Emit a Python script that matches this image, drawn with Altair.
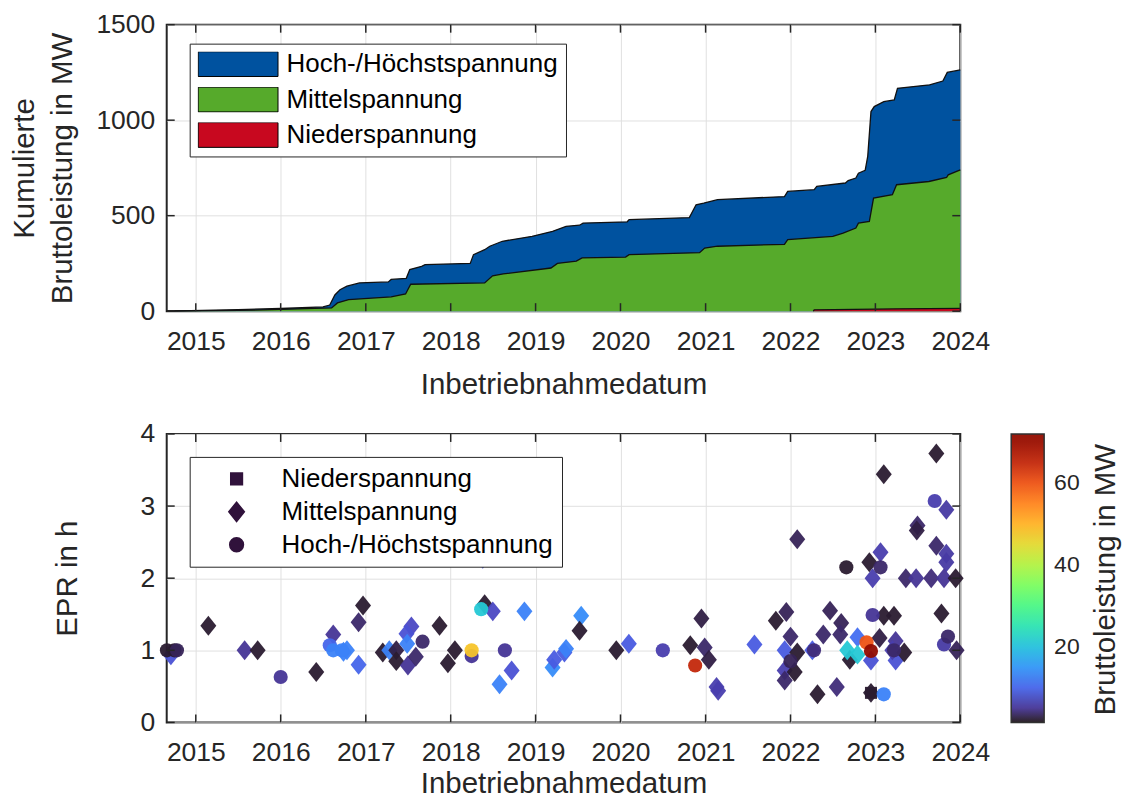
import altair as alt
import pandas as pd

# ---------------- top panel: cumulative gross capacity (MW) ----------------
# total (top edge of blue area)
total_dates = ["2014-08-29", "2015-07-02", "2016-01-01", "2016-07-01", "2016-07-30", "2016-08-21",
               "2016-09-12", "2016-10-12", "2016-12-05", "2017-04-08", "2017-04-20", "2017-06-24",
               "2017-07-09", "2017-08-29", "2017-09-13", "2018-03-26", "2018-04-09", "2018-05-27",
               "2018-06-18", "2018-08-11", "2018-12-17", "2019-03-15", "2019-05-12", "2019-07-09",
               "2019-07-24", "2020-01-30", "2020-02-07", "2020-10-23", "2020-11-21", "2020-12-24",
               "2021-02-21", "2021-12-06", "2021-12-20", "2022-04-13", "2022-04-24", "2022-08-25",
               "2022-09-06", "2022-10-09", "2022-10-20", "2022-11-18", "2022-11-29", "2022-12-13",
               "2022-12-27", "2023-02-06", "2023-03-23", "2023-04-06", "2023-08-22", "2023-10-18",
               "2023-11-06", "2024-01-01"]
total_mw = [0, 8, 14, 22, 32, 85,
            112, 131, 148, 153, 166, 172,
            218, 235, 244, 250, 296, 322,
            340, 366, 392, 418, 444, 450,
            461, 468, 479, 490, 557, 566,
            584, 600, 627, 636, 653, 671,
            684, 697, 722, 737, 810, 1045,
            1071, 1097, 1106, 1167, 1185, 1205,
            1250, 1263]

# Mittel- + Niederspannung (top edge of green area)
mv_dates = ["2014-08-29", "2015-07-02", "2016-01-01", "2016-08-07", "2016-09-01", "2016-10-19",
            "2017-04-20", "2017-06-21", "2017-07-13", "2018-05-27", "2018-06-30", "2018-08-15",
            "2019-03-08", "2019-04-05", "2019-06-25", "2019-07-20", "2020-01-23", "2020-02-07",
            "2020-12-06", "2020-12-28", "2021-02-21", "2021-12-06", "2021-12-20", "2022-07-02",
            "2022-08-15", "2022-10-09", "2022-10-20", "2022-12-06", "2022-12-24", "2023-03-15",
            "2023-04-02", "2023-08-19", "2023-11-03", "2023-11-10", "2024-01-01"]
mv_mw = [0, 4, 9, 17, 43, 60,
         75, 90, 141, 148, 185, 195,
         226, 250, 262, 279, 283, 296,
         306, 330, 340, 350, 375, 392,
         409, 435, 461, 470, 592, 610,
         662, 679, 700, 714, 740]

# Niederspannung (red area)
lv_dates = ["2022-04-09", "2022-04-13", "2022-10-01", "2023-04-01", "2024-01-01"]
lv_mw = [0, 7, 9, 12, 15]

levels_top = ["Hoch-/Höchstspannung", "Mittelspannung", "Niederspannung"]
colors_top = ["#00529f", "#56aa2b", "#c8081f"]

# ---------------- bottom panel: EPR vs. commissioning date ----------------
# Niederspannung (squares)
lv_pt_dates = ["2022-12-13"]
lv_pt_epr = [0.41]
lv_pt_mw = [2]

# Mittelspannung (diamonds)
mv_pt_dates = ["2014-09-16", "2015-02-24", "2015-07-30", "2015-09-24", "2016-06-02", "2016-08-14",
               "2016-09-27", "2016-10-12", "2016-12-01", "2016-12-01", "2016-12-20", "2017-03-15",
               "2017-04-12", "2017-05-12", "2017-05-12", "2017-07-01", "2017-07-16", "2017-06-25",
               "2017-06-28", "2017-08-04", "2017-11-14", "2018-01-19", "2017-12-20", "2018-05-27",
               "2018-07-01", "2018-05-19", "2018-11-14", "2018-09-20", "2018-07-30", "2019-03-15",
               "2019-03-22", "2019-05-05", "2019-05-12", "2019-07-16", "2019-07-09", "2019-12-14",
               "2020-02-06", "2020-10-27", "2020-12-14", "2020-12-28", "2021-01-15", "2021-02-17",
               "2021-02-24", "2021-07-30", "2021-10-30", "2021-12-14", "2021-12-07", "2022-01-01",
               "2022-01-30", "2021-12-07", "2021-12-07", "2022-01-19", "2022-01-30", "2022-04-05",
               "2022-04-27", "2022-05-22", "2022-06-20", "2022-07-19", "2022-08-07", "2022-08-03",
               "2022-09-13", "2022-09-02", "2022-10-16", "2022-10-16", "2022-12-13", "2022-12-13",
               "2022-12-06", "2022-12-20", "2023-01-23", "2023-02-06", "2023-01-19", "2023-02-06",
               "2023-03-22", "2023-03-29", "2023-03-29", "2023-03-15", "2023-05-05", "2023-05-12",
               "2023-06-25", "2023-07-01", "2023-06-28", "2023-08-29", "2023-09-20", "2023-09-20",
               "2023-10-12", "2023-11-02", "2023-11-02", "2023-11-02", "2023-10-23", "2023-12-12",
               "2023-12-16"]
mv_pt_epr = [0.93, 1.34, 1.00, 1.00, 0.70, 1.22,
             0.98, 1.00, 0.80, 1.39, 1.62, 0.97,
             1.00, 1.00, 0.85, 0.79, 1.33, 1.23,
             1.09, 0.91, 1.34, 1.00, 0.82, 1.64,
             1.54, 2.27, 1.54, 0.72, 0.53, 0.76,
             0.87, 0.97, 1.02, 1.48, 1.27, 1.00,
             1.09, 1.07, 1.44, 1.04, 0.87, 0.49,
             0.44, 1.08, 1.41, 1.53, 1.00, 1.19,
             0.97, 0.72, 0.58, 0.70, 2.54, 1.00,
             0.39, 1.22, 1.55, 0.49, 1.38, 1.22,
             0.87, 1.00, 1.18, 0.94, 0.86, 0.41,
             2.22, 2.00, 2.36, 3.44, 1.17, 1.48,
             1.48, 1.13, 0.86, 1.00, 0.97, 2.00,
             2.00, 2.73, 2.66, 2.00, 2.45, 3.73,
             1.51, 2.95, 2.34, 2.22, 2.00, 2.00,
             1.00]
mv_pt_mw = [8, 2, 5, 2, 2, 5,
            13, 13, 10, 3.5, 2, 2,
            13, 2.5, 2, 5, 7, 8,
            13, 3.5, 2, 2, 2, 2,
            7, 8, 13, 8, 13, 14,
            9, 9, 13, 14, 2, 2,
            9, 2, 2.5, 3.5, 2.5, 6,
            6, 9, 2, 3, 9, 3.5,
            2, 6, 3.5, 2, 3, 9,
            2, 3.5, 3, 4, 3, 3.5,
            2, 21, 11, 21, 8, 2,
            2, 6, 6, 2, 2.5, 2,
            2, 5, 8, 6, 2, 3.5,
            5, 3.5, 2.5, 4, 3.5, 2,
            2, 5.5, 5.5, 5.5, 5, 2,
            3]

# Hoch-/Höchstspannung (circles)
hv_pt_dates = ["2014-08-30", "2014-10-01", "2014-10-12", "2016-01-01", "2016-07-30", "2016-08-14",
               "2016-09-20", "2017-09-02", "2018-04-01", "2018-04-01", "2018-05-12", "2018-08-22",
               "2020-07-01", "2020-11-17", "2022-01-01", "2022-04-12", "2022-08-29", "2022-11-24",
               "2022-12-13", "2022-12-20", "2023-01-23", "2023-02-06", "2023-03-22", "2023-09-13",
               "2023-10-23", "2023-11-09"]
hv_pt_epr = [1.00, 1.00, 1.00, 0.63, 1.07, 1.00,
             1.00, 1.12, 0.92, 1.00, 1.57, 1.00,
             1.00, 0.79, 0.85, 1.00, 2.15, 1.11,
             0.99, 1.49, 2.15, 0.39, 1.00, 3.07,
             1.08, 1.19]
hv_pt_mw = [2, 2, 3, 5, 10, 13,
            13, 3.5, 5, 48, 21, 5,
            6, 65, 3, 4, 2, 60,
            72, 5, 3.5, 13, 3.5, 6,
            5.5, 3.5]

year_ticks = [f"{y}-01-01" for y in range(2015, 2025)]
top_yticks = [0, 500, 1000, 1500]
bot_yticks = [0, 1, 2, 3, 4]
cbar_ticks = [20, 40, 60]
cbar_title = ["Bruttoleistung in MW"]

# ---------------- tables ----------------
top_df = pd.concat([
    pd.DataFrame({"date": total_dates, "mw": total_mw, "level": levels_top[0]}),
    pd.DataFrame({"date": mv_dates, "mw": mv_mw, "level": levels_top[1]}),
    pd.DataFrame({"date": lv_dates, "mw": lv_mw, "level": levels_top[2]}),
], ignore_index=True)

levels_bot = ["Niederspannung", "Mittelspannung", "Hoch-/Höchstspannung"]
sc_df = pd.concat([
    pd.DataFrame({"date": lv_pt_dates, "epr": lv_pt_epr, "cap": lv_pt_mw, "level": levels_bot[0]}),
    pd.DataFrame({"date": mv_pt_dates, "epr": mv_pt_epr, "cap": mv_pt_mw, "level": levels_bot[1]}),
    pd.DataFrame({"date": hv_pt_dates, "epr": hv_pt_epr, "cap": hv_pt_mw, "level": levels_bot[2]}),
], ignore_index=True)

xt_df = pd.DataFrame({"date": year_ticks})
yt_top_df = pd.DataFrame({"mw": top_yticks})
yt_bot_df = pd.DataFrame({"epr": bot_yticks})
ct_df = pd.DataFrame({"t": cbar_title})

W = 795
H_TOP = 287
H_BOT = 289
TXT = "#262626"
TICK = 8
FONT = "Liberation Sans"

x_scale = alt.Scale(type="utc",
                    domain=[alt.DateTime(year=2014, month=8, date=29, utc=True),
                            alt.DateTime(year=2024, month=1, date=1, utc=True)])
x_vals = [alt.DateTime(year=y, month=1, date=1, utc=True) for y in range(2015, 2025)]


def x_axis(tpad):
    return alt.Axis(values=x_vals, format="%Y", labelPadding=17, titlePadding=tpad,
                    labelOverlap=False, labelFlush=False, title="Inbetriebnahmedatum")


top_y_scale = alt.Scale(domain=[0, 1500], nice=False)
bot_y_scale = alt.Scale(domain=[0, 4], nice=False)

rect_path = "M-1,-0.31L1,-0.31L1,0.31L-1,0.31Z"
square_path = "M-0.85,-0.85L0.85,-0.85L0.85,0.85L-0.85,0.85Z"
diamond_path = "M0,-1.41L1.13,0L0,1.41L-1.13,0Z"

TP_TOP = 16
TP_BOT = 4

# ---- top chart ----
area = alt.Chart(top_df).mark_area(opacity=1).encode(
    x=alt.X("date:T", scale=x_scale, axis=x_axis(TP_TOP)),
    y=alt.Y("mw:Q", stack=None, scale=top_y_scale,
            axis=alt.Axis(values=top_yticks, format="d", labelPadding=12, titlePadding=18,
                          titleLineHeight=39, labelOverlap=False,
                          title=["Kumulierte", "Bruttoleistung in MW"])),
    color=alt.Color("level:N", scale=alt.Scale(domain=levels_top, range=colors_top),
                    legend=alt.Legend(orient="none", legendX=23, legendY=19, title=None,
                                      symbolType=rect_path, symbolSize=6400, clipHeight=25,
                                      symbolStrokeColor="black", symbolStrokeWidth=1,
                                      labelFontSize=26, labelOffset=8, rowPadding=8.5,
                                      padding=8, strokeColor=TXT, fillColor="white",
                                      labelColor="black")),
)
edge = alt.Chart(top_df).mark_line(color="#111111", strokeWidth=1.3).encode(
    x=alt.X("date:T", scale=x_scale, axis=x_axis(TP_TOP)),
    y=alt.Y("mw:Q", stack=None, scale=top_y_scale),
    detail="level:N",
)
tx1 = alt.Chart(xt_df).mark_rule(color=TXT, strokeWidth=1.5).encode(
    x=alt.X("date:T", scale=x_scale, axis=x_axis(TP_TOP)), y=alt.value(0), y2=alt.value(TICK))
tx2 = alt.Chart(xt_df).mark_rule(color=TXT, strokeWidth=1.5).encode(
    x=alt.X("date:T", scale=x_scale, axis=x_axis(TP_TOP)), y=alt.value(H_TOP - TICK), y2=alt.value(H_TOP))
ty1 = alt.Chart(yt_top_df).mark_rule(color=TXT, strokeWidth=1.5).encode(
    y=alt.Y("mw:Q", scale=top_y_scale), x=alt.value(0), x2=alt.value(TICK))
ty2 = alt.Chart(yt_top_df).mark_rule(color=TXT, strokeWidth=1.5).encode(
    y=alt.Y("mw:Q", scale=top_y_scale), x=alt.value(W - TICK), x2=alt.value(W))

top = alt.layer(area, edge, tx1, tx2, ty1, ty2).properties(width=W, height=H_TOP)

# ---- bottom chart ----
pts = alt.Chart(sc_df).mark_point(filled=True, size=201, opacity=0.95, strokeWidth=0).encode(
    x=alt.X("date:T", scale=x_scale, axis=x_axis(TP_BOT)),
    y=alt.Y("epr:Q", scale=bot_y_scale,
            axis=alt.Axis(values=bot_yticks, format="d", labelPadding=12, titlePadding=58,
                          title="EPR in h")),
    color=alt.Color("cap:Q", scale=alt.Scale(scheme="turbo", domain=[1.5, 72]),
                    legend=alt.Legend(title=None, type="gradient", direction="vertical",
                                      values=cbar_ticks, gradientLength=H_BOT, gradientThickness=33,
                                      gradientStrokeColor=TXT, gradientStrokeWidth=1.5,
                                      labelFontSize=23, labelOffset=10, labelColor=TXT,
                                      offset=51, padding=0)),
    shape=alt.Shape("level:N", scale=alt.Scale(domain=levels_bot,
                                               range=[square_path, diamond_path, "circle"]),
                    legend=alt.Legend(orient="none", legendX=23, legendY=23, title=None,
                                      symbolSize=190, symbolFillColor="#30123b",
                                      symbolStrokeColor="#30123b", symbolOpacity=1,
                                      symbolOffset=25, labelOffset=32,
                                      labelFontSize=26, rowPadding=7, padding=9,
                                      strokeColor=TXT, fillColor="white", labelColor="black")),
)
ctitle = alt.Chart(ct_df).mark_text(angle=270, fontSize=29.5, color=TXT, font=FONT,
                                    align="center", baseline="alphabetic").encode(
    text="t:N", x=alt.value(W + 155), y=alt.value(146))
bx1 = alt.Chart(xt_df).mark_rule(color=TXT, strokeWidth=1.5).encode(
    x=alt.X("date:T", scale=x_scale, axis=x_axis(TP_BOT)), y=alt.value(0), y2=alt.value(TICK))
bx2 = alt.Chart(xt_df).mark_rule(color=TXT, strokeWidth=1.5).encode(
    x=alt.X("date:T", scale=x_scale, axis=x_axis(TP_BOT)), y=alt.value(H_BOT - TICK), y2=alt.value(H_BOT))
by1 = alt.Chart(yt_bot_df).mark_rule(color=TXT, strokeWidth=1.5).encode(
    y=alt.Y("epr:Q", scale=bot_y_scale), x=alt.value(0), x2=alt.value(TICK))
by2 = alt.Chart(yt_bot_df).mark_rule(color=TXT, strokeWidth=1.5).encode(
    y=alt.Y("epr:Q", scale=bot_y_scale), x=alt.value(W - TICK), x2=alt.value(W))

bottom = alt.layer(pts, bx1, bx2, by1, by2, ctitle).properties(width=W, height=H_BOT)

chart = alt.vconcat(top, bottom, spacing=20).resolve_scale(
    color="independent", shape="independent", x="independent", y="independent"
).properties(
    padding={"left": 0, "top": 2, "right": 0, "bottom": 0}
).configure(
    font=FONT,
).configure_view(
    stroke=TXT, strokeWidth=2
).configure_axis(
    labelFontSize=26.5, titleFontSize=29.5, labelColor=TXT, titleColor=TXT,
    titleFontWeight="normal", ticks=False, domain=False,
    grid=True, gridColor="#e0e0e0", gridWidth=1, labelFont=FONT,
    titleFont=FONT,
).configure_legend(
    labelFont=FONT, titleFont=FONT, labelLimit=400
)

chart.save("out.html", embed_options={"renderer": "svg", "actions": False})
